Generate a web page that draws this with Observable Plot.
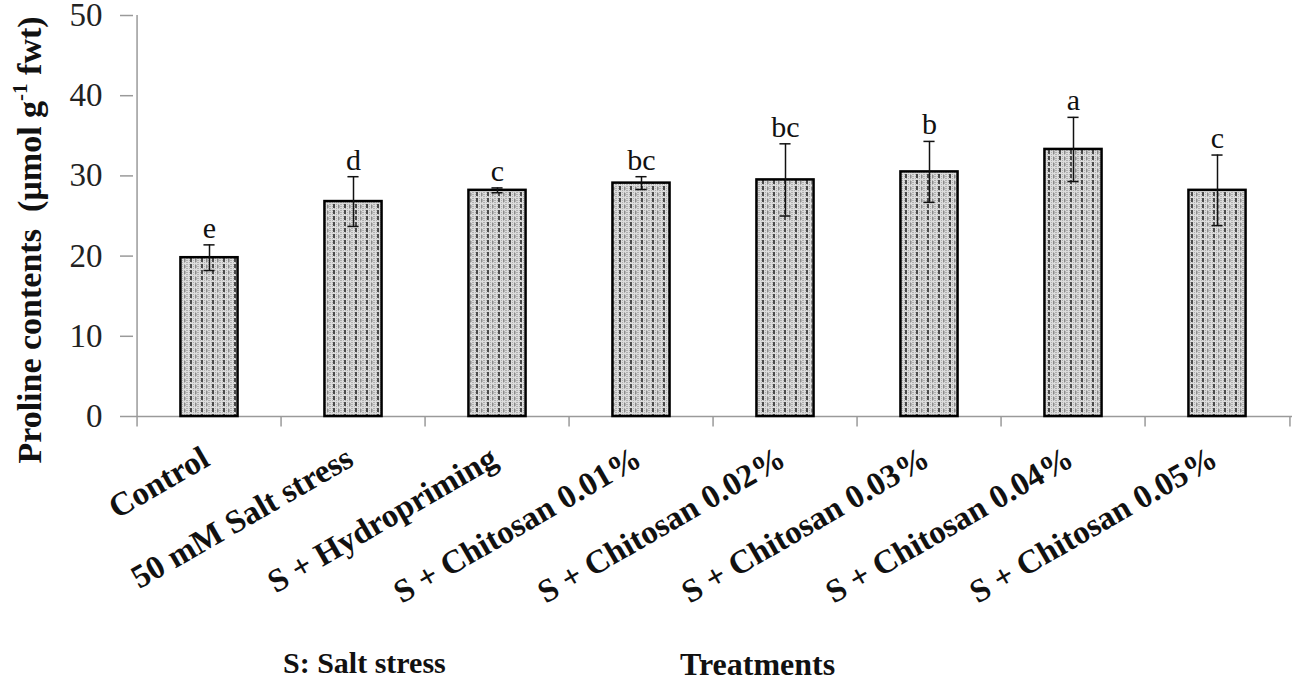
<!DOCTYPE html>
<html>
<head>
<meta charset="utf-8">
<script src="https://cdn.jsdelivr.net/npm/d3@7"></script>
<script src="https://cdn.jsdelivr.net/npm/@observablehq/plot@0.6"></script>
<style>
  body { margin: 0; background: #fff; font-family: "Liberation Serif", "Times New Roman", serif; }
  #wrap { position: relative; width: 1299px; height: 685px; overflow: hidden; background: #fff; }
  #foot { position: relative; height: 45px; }
  #foot span { position: absolute; top: 8px; font-weight: bold; font-size: 32px; line-height: 1; color: #111; white-space: pre; }
</style>
</head>
<body>
<div id="wrap"><div id="chart"></div><div id="foot"></div></div>
<script>
// ---- data ----
const categories = ["Control", "50 mM Salt stress", "S + Hydropriming", "S + Chitosan 0.01%",
  "S + Chitosan 0.02%", "S + Chitosan 0.03%", "S + Chitosan 0.04%", "S + Chitosan 0.05%"];
const means  = [19.8, 26.8, 28.2, 29.1, 29.5, 30.5, 33.3, 28.2];
const errors = [1.6, 3.1, 0.3, 0.8, 4.5, 3.8, 4.0, 4.4];
const letters = ["e", "d", "c", "bc", "bc", "b", "a", "c"];
const yTicks = [0, 10, 20, 30, 40, 50];
const yTitleParts = ["Proline contents  (µmol g", "-1", " fwt)"];
const footTexts = ["S: Salt stress", "Treatments"];

const data = categories.map((c, i) => ({c, m: means[i], e: errors[i], l: letters[i]}));

const W = 1299, H = 640, mL = 133, mR = 7, mT = 15, mB = 224;
const band = (W - mL - mR) / categories.length;
const barInset = (band - 58) / 2;
const capInset = (band - 12) / 2;

const chart = Plot.plot({
  width: W, height: H,
  marginTop: mT, marginBottom: mB, marginLeft: mL, marginRight: mR,
  style: {fontFamily: "'Liberation Serif', 'Times New Roman', serif", background: "#fff", overflow: "visible", color: "#111"},
  x: {domain: categories, padding: 0, axis: null},
  y: {domain: [0, 50], axis: null},
  marks: [
    // y axis
    Plot.axisY(yTicks, {tickSize: 13, tickPadding: 18, fontSize: 33, stroke: "#9a9a9a", fill: "#222", label: null, strokeWidth: 1.5}),
    Plot.ruleX([categories[0]], {dx: -band / 2, y1: 0, y2: 50, stroke: "#9a9a9a", strokeWidth: 1.5}),
    // x axis line and boundary ticks
    Plot.ruleY([0], {stroke: "#9a9a9a", strokeWidth: 1.5}),
    Plot.ruleX(categories, {x: d => d, dx: -band / 2, y1: 0, y2: -1.3, stroke: "#9a9a9a", strokeWidth: 1.5}),
    Plot.ruleX([categories[categories.length - 1]], {x: d => d, dx: band / 2, y1: 0, y2: -1.3, stroke: "#9a9a9a", strokeWidth: 1.5}),
    // bars
    Plot.barY(data, {x: "c", y: "m", fill: "url(#stip)", stroke: "#000", strokeWidth: 2.5, insetLeft: barInset, insetRight: barInset}),
    // error bars
    Plot.ruleX(data, {x: "c", y1: d => d.m - d.e, y2: d => d.m + d.e, stroke: "#111", strokeWidth: 1.5}),
    Plot.tickY(data, {x: "c", y: d => d.m + d.e, insetLeft: capInset, insetRight: capInset, stroke: "#111", strokeWidth: 1.5}),
    Plot.tickY(data, {x: "c", y: d => d.m - d.e, insetLeft: capInset, insetRight: capInset, stroke: "#111", strokeWidth: 1.5}),
    // significance letters
    Plot.text(data, {x: "c", y: d => d.m + d.e, text: "l", dy: -7, lineAnchor: "bottom", fontSize: 30, fill: "#111"}),
    // category labels
    Plot.text(categories, {x: d => d, y: () => 0, text: d => d, dy: 48, dx: 2, rotate: -30, textAnchor: "end",
      lineAnchor: "bottom", fontSize: 33, fontWeight: "bold", fill: "#111"})
  ]
});

document.getElementById("chart").appendChild(chart);

// pattern for bar fill
const svg = d3.select(chart);
const defs = svg.insert("defs", ":first-child");
const pat = defs.append("pattern").attr("id", "stip").attr("patternUnits", "userSpaceOnUse")
  .attr("width", 11).attr("height", 6);
pat.append("rect").attr("width", 11).attr("height", 6).attr("fill", "#dcdcdc");
for (let x = 0; x < 11; x += 2) for (let y = 0; y < 6; y += 2)
  pat.append("rect").attr("x", x).attr("y", y).attr("width", 1).attr("height", 1).attr("fill", "#b0b0b0");
pat.append("rect").attr("x", 3).attr("y", 0).attr("width", 2).attr("height", 4).attr("fill", "#4a4a4a");
pat.append("rect").attr("x", 8).attr("y", 1).attr("width", 1.5).attr("height", 3).attr("fill", "#8a8a8a");

// y-axis title with superscript
const t = svg.append("text")
  .attr("transform", `translate(41,240) rotate(-90)`)
  .attr("text-anchor", "middle")
  .attr("font-family", "'Liberation Serif', 'Times New Roman', serif")
  .attr("font-size", 34).attr("font-weight", "bold").attr("fill", "#111")
  .style("white-space", "pre");
t.append("tspan").text(yTitleParts[0]);
t.append("tspan").attr("font-size", 21).attr("dy", -14).text(yTitleParts[1]);
t.append("tspan").attr("dy", 14).text(yTitleParts[2]);

// footer texts
const foot = document.getElementById("foot");
[[footTexts[0], 283, 30], [footTexts[1], 680, 32]].forEach(([s, left, fs]) => {
  const sp = document.createElement("span");
  sp.textContent = s; sp.style.left = left + "px"; sp.style.fontSize = fs + "px";
  foot.appendChild(sp);
});
</script>
</body>
</html>
